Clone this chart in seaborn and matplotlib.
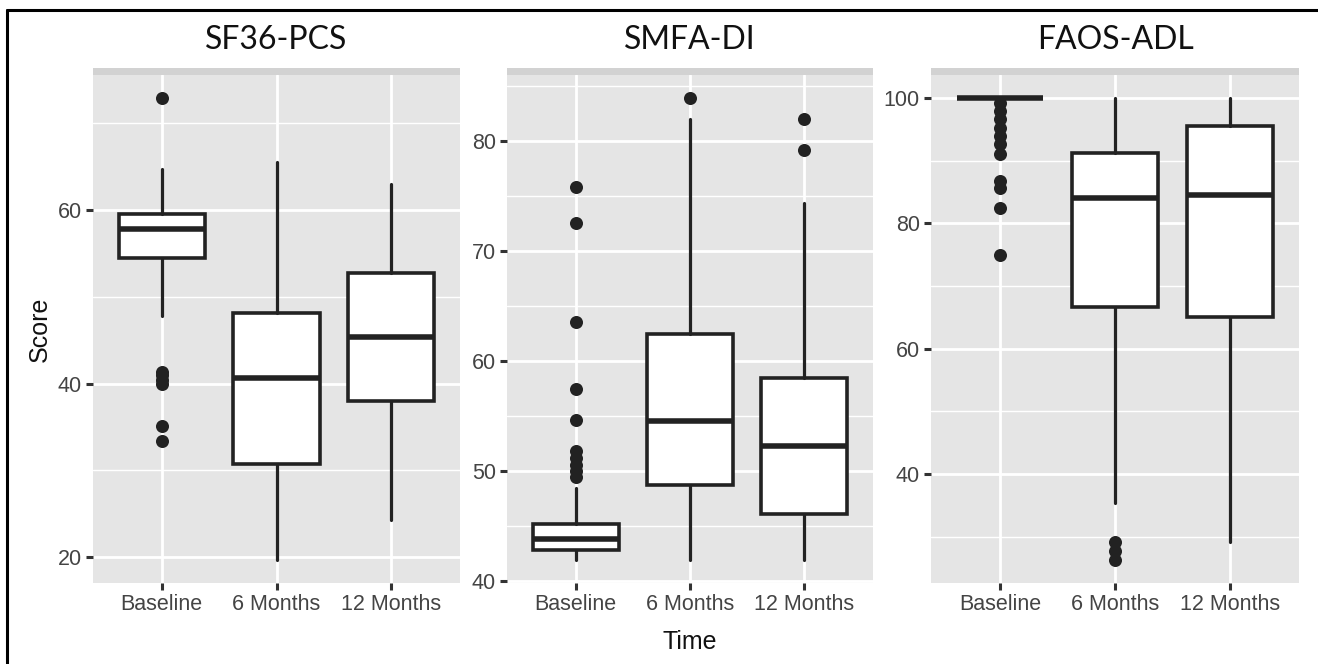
import numpy as np
import pandas as pd
import matplotlib
matplotlib.use("Agg")
import matplotlib.pyplot as plt
import seaborn as sns
from matplotlib.lines import Line2D
from matplotlib.patches import Rectangle
from matplotlib.ticker import MultipleLocator

times = ["Baseline", "6 Months", "12 Months"]
titles = ["SF36-PCS", "SMFA-DI", "FAOS-ADL"]

# box summaries: lower whisker, Q1, median, Q3, upper whisker
pcs_low = [47.8, 19.7, 24.3]
pcs_q1 = [54.5, 30.8, 38.0]
pcs_med = [57.8, 40.7, 45.4]
pcs_q3 = [59.5, 48.2, 52.8]
pcs_high = [64.7, 65.5, 63.0]
pcs_out = [[72.9, 41.4, 41.0, 40.4, 40.0, 35.1, 33.4], [], []]

smfa_low = [41.9, 41.9, 41.9]
smfa_q1 = [42.8, 48.7, 46.1]
smfa_med = [43.8, 54.5, 52.3]
smfa_q3 = [45.2, 62.4, 58.4]
smfa_high = [48.4, 82.0, 74.4]
smfa_out = [[75.8, 72.5, 63.5, 57.4, 54.6, 51.8, 51.2, 50.5, 50.0, 49.4], [83.9], [82.0, 79.2]]

faos_low = [100, 35.4, 29.2]
faos_q1 = [100, 66.7, 65.1]
faos_med = [100, 84.0, 84.6]
faos_q3 = [100, 91.3, 95.6]
faos_high = [100, 100, 100]
faos_out = [[99.2, 97.9, 96.7, 95.2, 94.0, 92.7, 91.1, 86.8, 85.6, 82.5, 75.0],
            [29.2, 27.8, 26.3], []]

panels = [
    (pcs_low, pcs_q1, pcs_med, pcs_q3, pcs_high, pcs_out, 20, 10),
    (smfa_low, smfa_q1, smfa_med, smfa_q3, smfa_high, smfa_out, 10, 5),
    (faos_low, faos_q1, faos_med, faos_q3, faos_high, faos_out, 20, 10),
]

sns.set_theme(style="darkgrid", rc={"axes.facecolor": "#E5E5E5", "grid.color": "white"})
plt.rcParams["font.family"] = ["Liberation Sans", "DejaVu Sans"]

W, H = 1318, 664
fig = plt.figure(figsize=(W / 100, H / 100), dpi=100)
fig.patch.set_facecolor("white")

lefts = [93, 507, 931]
widths = [367, 366, 368]
top, bottom = 75, 583

line_col = "#222222"
axes = []
for i, (lo, q1, med, q3, hi, out, major, minor) in enumerate(panels):
    ax = fig.add_axes([lefts[i] / W, 1 - bottom / H, widths[i] / W, (bottom - top) / H])
    axes.append(ax)

    stats = [dict(whislo=lo[k], q1=q1[k], med=med[k], q3=q3[k], whishi=hi[k], fliers=[])
             for k in range(len(times))]
    ax.bxp(stats, positions=range(len(times)), widths=0.75, showcaps=False,
           showfliers=False, patch_artist=True,
           boxprops=dict(facecolor="white", edgecolor=line_col, linewidth=2.6),
           medianprops=dict(color=line_col, linewidth=4.0, solid_capstyle="butt"),
           whiskerprops=dict(color=line_col, linewidth=2.3))

    df = pd.DataFrame({"x": [k for k, o in enumerate(out) for _ in o],
                       "y": [v for o in out for v in o]})
    sns.scatterplot(data=df, x="x", y="y", ax=ax, color=line_col, s=88,
                    linewidth=0, zorder=4, legend=False)

    # ggplot-like 5% expansion of the data range
    allv = lo + hi + [v for o in out for v in o]
    span = max(allv) - min(allv)
    ax.set_ylim(min(allv) - 0.05 * span, max(allv) + 0.05 * span)
    ax.set_xlim(-0.6, len(times) - 0.4)

    ax.yaxis.set_major_locator(MultipleLocator(major))
    ax.yaxis.set_minor_locator(MultipleLocator(minor))
    ax.set_xticks(range(len(times)))
    ax.set_xticklabels(times)
    ax.grid(False)
    ax.yaxis.grid(True, which="major", color="white", linewidth=2.0)
    ax.yaxis.grid(True, which="minor", color="white", linewidth=1.0)
    ax.xaxis.grid(True, which="major", color="white", linewidth=2.0)
    ax.set_axisbelow(True)
    for s in ax.spines.values():
        s.set_visible(False)
    ax.tick_params(axis="both", which="major", bottom=True, left=True, length=5,
                   width=2.2, color="#333333", labelsize=15.5, labelcolor="#444444", pad=3)
    ax.tick_params(axis="both", which="minor", length=0)
    ax.set_xlabel("")
    ax.set_ylabel("")

    # grey strip remnant on top of each panel
    ax.add_patch(Rectangle((0, 1), 1, 7 / (bottom - top), transform=ax.transAxes,
                           facecolor="#D2D2D2", edgecolor="none", clip_on=False))
    ax.text(0.5, 1 + (top - 40) / (bottom - top), titles[i], transform=ax.transAxes,
            ha="center", va="center", fontsize=23, color="#111111",
            family=["Lato", "DejaVu Sans"])

axes[0].set_ylabel("Score", fontsize=18, color="#111111", labelpad=4)
axes[1].set_xlabel("Time", fontsize=18, color="#111111", labelpad=11)

# frame lines on the top and left edge
fig.add_artist(Line2D([7 / W, 1], [1 - 10 / H, 1 - 10 / H], transform=fig.transFigure,
                      color="black", linewidth=2.2))
fig.add_artist(Line2D([7 / W, 7 / W], [0, 1 - 10 / H], transform=fig.transFigure,
                      color="black", linewidth=2.2))

fig.savefig("out.png", dpi=100)
